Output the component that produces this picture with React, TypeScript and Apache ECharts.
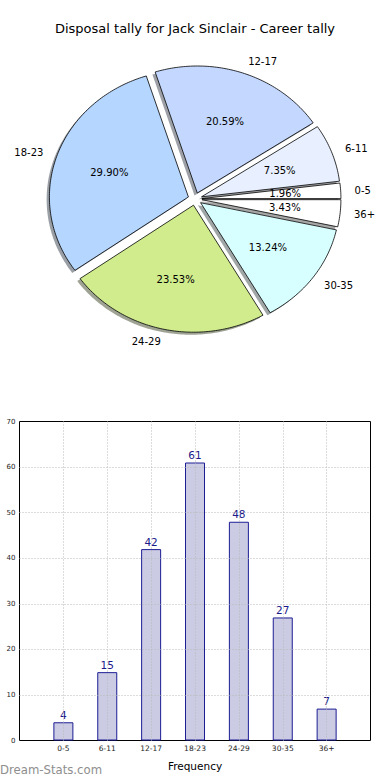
import React, { useEffect, useRef } from "react";
import * as echarts from "echarts";

const categories = ["0-5", "6-11", "12-17", "18-23", "24-29", "30-35", "36+"];
const tallies = [4, 15, 42, 61, 48, 27, 7];
const yTicks = [0, 10, 20, 30, 40, 50, 60, 70];
const titleText = "Disposal tally for Jack Sinclair - Career tally";
const xAxisName = "Frequency";
const watermark = "Dream-Stats.com";

const pieColors = ["#ffffff", "#e8f0ff", "#c4d8ff", "#b5d6ff", "#d0ec8c", "#d8ffff", "#ffffff"];

const FONT = "DejaVu Sans";
const PIE_CX = 195;
const PIE_CY = 199;
const PIE_RX = 139;
const PIE_RY = 127;
const EXPLODE = 0.05;

function shade(hex: string): string {
  const n = parseInt(hex.slice(1), 16);
  const r = Math.round(((n >> 16) & 255) * 0.3);
  const g = Math.round(((n >> 8) & 255) * 0.3);
  const b = Math.round((n & 255) * 0.3);
  return `rgba(${r},${g},${b},0.5)`;
}

export default function App() {
  const ref = useRef<HTMLDivElement>(null);

  useEffect(() => {
    document.body.style.margin = "0";
    if (!ref.current) return;
    const chart = echarts.init(ref.current, null, { renderer: "svg" });

    const total = tallies.reduce((a, b) => a + b, 0);
    const cum: number[] = [];
    let acc = 0;
    tallies.forEach((v) => {
      cum.push(acc);
      acc += v;
    });
    const pieData = tallies.map((v, i) => ({ name: categories[i], value: [v, cum[i]] }));

    const renderItem = (params: any, api: any) => {
      const idx = params.dataIndex;
      const v = api.value(0);
      const start = api.value(1);
      const a1 = (start / total) * Math.PI * 2;
      const a2 = ((start + v) / total) * Math.PI * 2;
      const am = (a1 + a2) / 2;
      const ox = EXPLODE * Math.cos(am);
      const oy = EXPLODE * Math.sin(am);
      const px = (u: number, w: number, dx = 0, dy = 0) => [PIE_CX + PIE_RX * u + dx, PIE_CY - PIE_RY * w + dy];
      const steps = Math.max(2, Math.ceil((a2 - a1) / (Math.PI / 180)));
      const build = (dx: number, dy: number) => {
        const pts: number[][] = [px(ox, oy, dx, dy)];
        for (let s = 0; s <= steps; s++) {
          const t = a1 + ((a2 - a1) * s) / steps;
          pts.push(px(ox + Math.cos(t), oy + Math.sin(t), dx, dy));
        }
        return pts;
      };
      const color = pieColors[idx];
      const labelPos = px(ox + 1.1 * Math.cos(am), oy + 1.1 * Math.sin(am));
      const pctPos = px(ox + 0.6 * Math.cos(am), oy + 0.6 * Math.sin(am));
      return {
        type: "group",
        children: [
          {
            type: "polygon",
            z2: 0,
            shape: { points: build(-0.02 * PIE_RX, 0.02 * PIE_RY) },
            style: { fill: shade(color), stroke: "none" },
          },
          {
            type: "polygon",
            z2: 5,
            shape: { points: build(0, 0) },
            style: { fill: color, stroke: "#000", lineWidth: 0.8 },
          },
          {
            type: "text",
            z2: 10,
            style: {
              text: categories[idx],
              x: labelPos[0],
              y: labelPos[1],
              align: Math.cos(am) > 0 ? "left" : "right",
              verticalAlign: "middle",
              fill: "#000",
              fontSize: 10,
              fontFamily: FONT,
            },
          },
          {
            type: "text",
            z2: 10,
            style: {
              text: ((v / total) * 100).toFixed(2) + "%",
              x: pctPos[0],
              y: pctPos[1],
              align: "center",
              verticalAlign: "middle",
              fill: "#000",
              fontSize: 10,
              fontFamily: FONT,
            },
          },
        ],
      };
    };

    const option: any = {
      animation: false,
      title: {
        text: titleText,
        left: "center",
        top: 22,
        padding: 0,
        textStyle: { fontFamily: FONT, fontSize: 13, fontWeight: "normal", color: "#000" },
      },
      graphic: [
        {
          type: "text",
          left: 0,
          top: 764,
          style: { text: watermark, fill: "#8e8e8e", fontSize: 11.7, fontFamily: FONT },
        },
      ],
      grid: {
        left: 19.5,
        top: 421.5,
        width: 351,
        height: 319,
        show: true,
        borderColor: "#000",
        borderWidth: 1,
        backgroundColor: "transparent",
      },
      xAxis: {
        type: "value",
        min: -1,
        max: 7,
        interval: 1,
        z: 3,
        name: xAxisName,
        nameLocation: "middle",
        nameGap: 20,
        nameTextStyle: { fontFamily: FONT, fontSize: 10.5, color: "#000" },
        axisLine: { show: false },
        axisTick: { show: false },
        axisLabel: {
          fontFamily: FONT,
          fontSize: 7.5,
          color: "#222",
          margin: 4,
          formatter: (val: number) => (val >= 0 && val < categories.length ? categories[val] : ""),
        },
        splitLine: {
          show: true,
          showMinLine: false,
          showMaxLine: false,
          lineStyle: { color: "#b8b8b8", type: [1, 2], width: 1 },
        },
      },
      yAxis: {
        type: "value",
        min: yTicks[0],
        max: yTicks[yTicks.length - 1],
        interval: 10,
        z: 3,
        axisLine: { show: false },
        axisTick: { show: false },
        axisLabel: { fontFamily: FONT, fontSize: 7, color: "#222", margin: 4 },
        splitLine: {
          show: true,
          showMinLine: false,
          showMaxLine: false,
          lineStyle: { color: "#b8b8b8", type: [1, 2], width: 1 },
        },
      },
      series: [
        {
          type: "custom",
          coordinateSystem: "none",
          renderItem,
          data: pieData,
          silent: true,
        },
        {
          type: "bar",
          data: tallies.map((v, i) => [i, v]),
          barWidth: 20,
          itemStyle: { color: "#cbcce3", borderColor: "#1c1c94", borderWidth: 1 },
          label: {
            show: true,
            position: "top",
            distance: 2,
            color: "#1a1a8a",
            fontFamily: FONT,
            fontSize: 10.5,
          },
        },
      ],
    };

    chart.setOption(option);
    return () => chart.dispose();
  }, []);

  return <div ref={ref} style={{ width: 390, height: 780 }} />;
}
